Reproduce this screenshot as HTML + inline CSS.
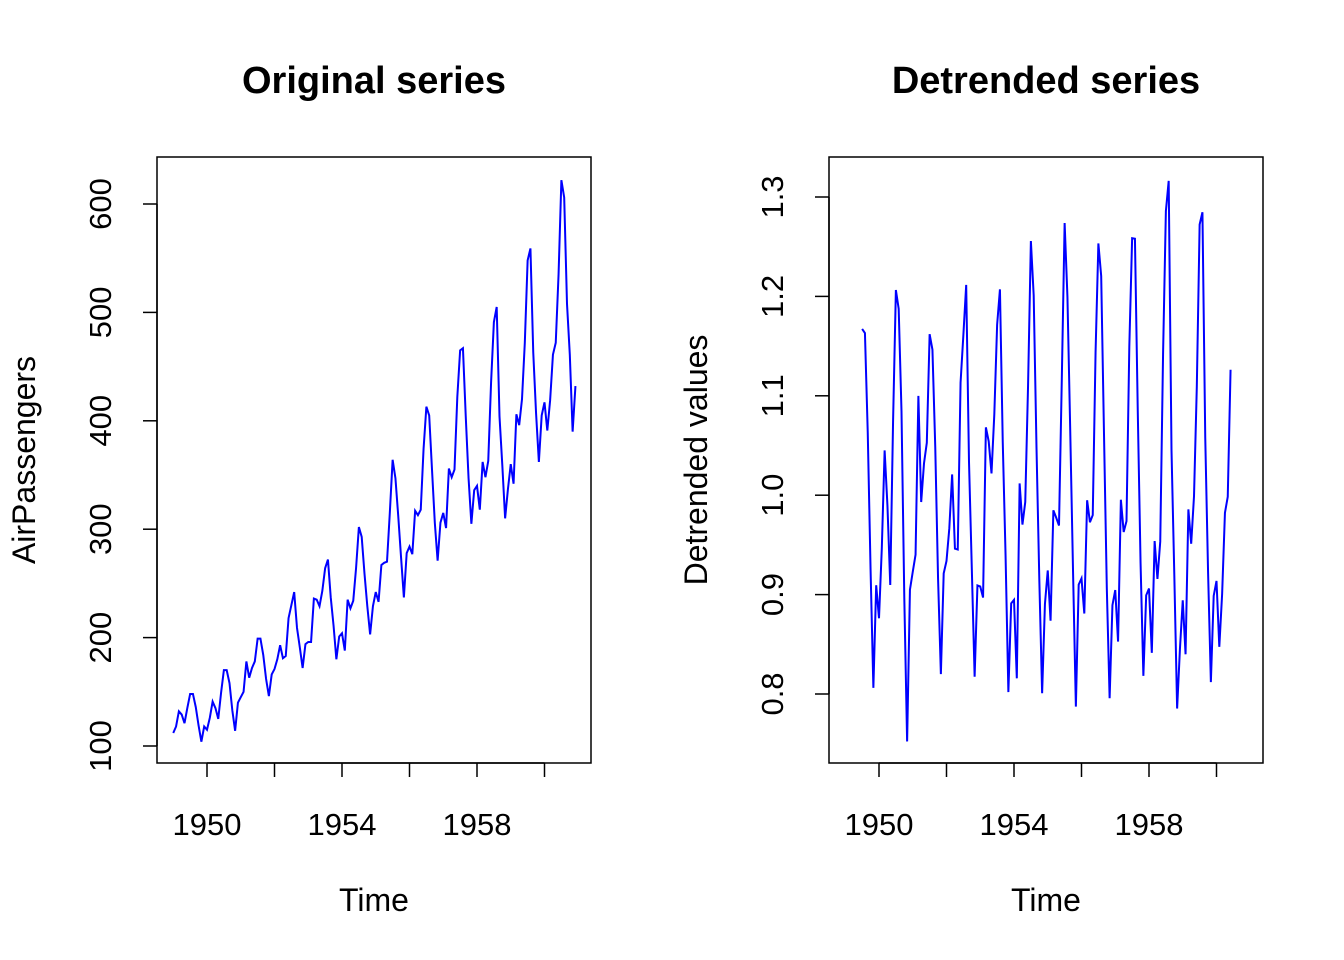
<!DOCTYPE html>
<html><head><meta charset="utf-8"><style>body{margin:0;background:#fff}svg{display:block}</style></head>
<body>
<svg id="s" width="1344" height="960" xmlns="http://www.w3.org/2000/svg" font-family="Liberation Sans, Arial, sans-serif">
<rect width="1344" height="960" fill="#fff"/>
<g id="g"></g>
</svg>
<script>
const d=[112,118,132,129,121,135,148,148,136,119,104,118,115,126,141,135,125,149,170,170,158,133,114,140,145,150,178,163,172,178,199,199,184,162,146,166,171,180,193,181,183,218,230,242,209,191,172,194,196,196,236,235,229,243,264,272,237,211,180,201,204,188,235,227,234,264,302,293,259,229,203,229,242,233,267,269,270,315,364,347,312,274,237,278,284,277,317,313,318,374,413,405,355,306,271,306,315,301,356,348,355,422,465,467,404,347,305,336,340,318,362,348,363,435,491,505,404,359,310,337,360,342,406,396,420,472,548,559,463,407,362,405,417,391,419,461,472,535,622,606,508,461,390,432];
let h='';
function panel(x0,x1,y0,y1,title,ylab,pts,ymap,yt,ytl,xOff){
 h+=`<rect x="${x0}" y="${y0}" width="${x1-x0}" height="${y1-y0}" fill="none" stroke="#000" stroke-width="1.5"/>`;
 h+=`<text x="${(x0+x1)/2}" y="93" font-size="38" font-weight="bold" text-anchor="middle">${title}</text>`;
 h+=`<text x="${(x0+x1)/2}" y="911" font-size="32" text-anchor="middle">Time</text>`;
 h+=`<text transform="translate(${x0-122},${(y0+y1)/2}) rotate(-90)" font-size="32" text-anchor="middle">${ylab}</text>`;
 const xm=t=>xOff+(t-1950)*33.75;
 for(let yr=1950;yr<=1960;yr+=2){const x=xm(yr);h+=`<line x1="${x}" y1="${y1}" x2="${x}" y2="${y1+14}" stroke="#000" stroke-width="1.5"/>`;}
 h+=`<line x1="${xm(1950)}" y1="${y1}" x2="${xm(1960)}" y2="${y1}" stroke="#000" stroke-width="1.5"/>`;
 for(const yr of [1950,1954,1958])h+=`<text x="${xm(yr)}" y="835" font-size="31" text-anchor="middle">${yr}</text>`;
 const ys=yt.map(ymap);
 h+=`<line x1="${x0}" y1="${ys[0]}" x2="${x0}" y2="${ys[ys.length-1]}" stroke="#000" stroke-width="1.5"/>`;
 yt.forEach((v,i)=>{const y=ys[i];h+=`<line x1="${x0-14}" y1="${y}" x2="${x0}" y2="${y}" stroke="#000" stroke-width="1.5"/>`;
 h+=`<text transform="translate(${x0-46},${y}) rotate(-90)" font-size="31" text-anchor="middle">${ytl[i]}</text>`;});
 h+=`<polyline fill="none" stroke="#0000ff" stroke-width="2" points="${pts.map(p=>xm(p[0]).toFixed(2)+','+ymap(p[1]).toFixed(2)).join(' ')}"/>`;
}
const p1=d.map((v,i)=>[1949+i/12,v]);
panel(157,591,157,763,'Original series','AirPassengers',p1,v=>746-(v-100)*1.084,[100,200,300,400,500,600],['100','200','300','400','500','600'],207);
const p2=[];
for(let t=6;t<d.length-6;t++){let s=0.5*d[t-6]+0.5*d[t+6];for(let k=-5;k<=5;k++)s+=d[t+k];p2.push([1949+t/12,d[t]/(s/12)]);}
panel(829,1263,157,763,'Detrended series','Detrended values',p2,v=>694-(v-0.8)*994,[0.8,0.9,1.0,1.1,1.2,1.3],['0.8','0.9','1.0','1.1','1.2','1.3'],879);
document.getElementById('g').innerHTML=h;
</script>
</body></html>
